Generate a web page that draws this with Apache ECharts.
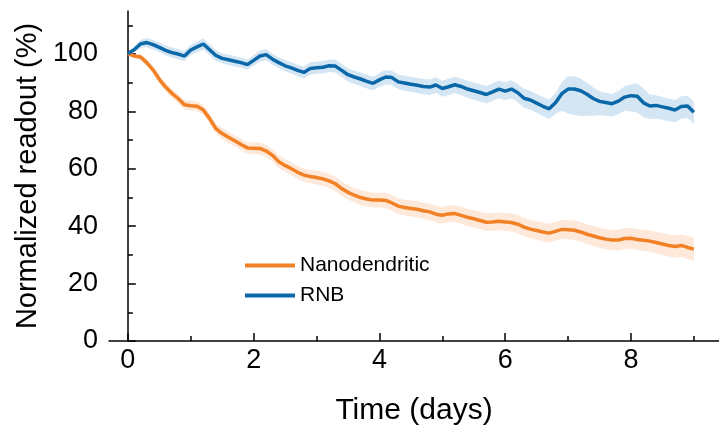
<!DOCTYPE html>
<html>
<head>
<meta charset="utf-8">
<script src="https://cdn.jsdelivr.net/npm/echarts@6/dist/echarts.min.js"></script>
<style>html,body{margin:0;padding:0;background:#fff}#c{width:719px;height:431px}</style>
</head>
<body>
<div id="c"></div>
<script>
const days = [0,0.1,0.2,0.3,0.4,0.5,0.6,0.7,0.8,0.9,1,1.1,1.2,1.3,1.4,1.5,1.6,1.7,1.8,1.9,2,2.1,2.2,2.3,2.4,2.5,2.6,2.7,2.8,2.9,3,3.1,3.2,3.3,3.4,3.5,3.6,3.7,3.8,3.9,4,4.1,4.2,4.3,4.4,4.5,4.6,4.7,4.8,4.9,5,5.1,5.2,5.3,5.4,5.5,5.6,5.7,5.8,5.9,6,6.1,6.2,6.3,6.4,6.5,6.6,6.7,6.8,6.9,7,7.1,7.2,7.3,7.4,7.5,7.6,7.7,7.8,7.9,8,8.1,8.2,8.3,8.4,8.5,8.6,8.7,8.8,8.9,9];

const rnbMean = [100.2,101.5,103.5,104.0,103.3,102.3,101.3,100.5,100.0,99.3,
101.4,102.5,103.5,101.5,99.5,98.5,98.0,97.5,97.0,96.3,
97.8,99.3,99.8,98.2,97.0,95.9,95.2,94.3,93.6,95.0,
95.2,95.4,95.9,95.8,94.3,92.8,92.0,91.3,90.5,89.8,
91.0,92.0,91.8,90.3,89.9,89.5,89.1,88.7,88.5,89.2,
88.0,88.6,89.3,88.7,87.8,87.2,86.6,85.9,86.8,87.8,
87.1,87.8,86.5,84.6,84.0,82.9,81.8,80.9,83.0,86.2,
87.8,87.8,87.2,86.0,84.5,83.5,83.1,82.7,83.6,85.0,
85.5,85.3,83.0,81.9,82.1,81.6,81.1,80.5,81.7,81.9,
79.7];
const rnbErrUp = [0.6,1.0,1.4,1.6,1.7,1.7,1.7,1.8,1.8,1.8,
1.8,1.9,2.0,1.9,1.8,1.8,1.8,1.8,1.8,1.8,
1.9,2.0,2.0,1.9,1.9,2.0,2.0,2.0,2.1,2.1,
2.1,2.2,2.2,2.2,2.2,2.2,2.3,2.3,2.3,2.3,
2.4,2.4,2.4,2.5,2.5,2.5,2.6,2.6,2.6,2.7,
2.7,2.8,2.8,2.8,2.9,2.9,2.9,3.0,3.0,3.0,
3.1,3.1,3.1,3.2,3.2,3.2,3.3,3.3,3.4,4.0,
4.5,4.5,4.3,4.0,3.8,3.5,3.4,3.4,3.5,3.8,
4.0,4.5,5.0,4.0,3.5,3.4,3.4,3.5,3.6,3.6,
3.7];
const rnbErrDown = [0.6,1.0,1.4,1.6,1.7,1.7,1.7,1.8,1.8,1.8,
1.8,1.9,2.0,1.9,1.8,1.8,1.8,1.8,1.8,1.8,
1.9,2.0,2.0,1.9,1.9,2.0,2.0,2.0,2.1,2.1,
2.1,2.2,2.2,2.2,2.3,2.4,2.4,2.4,2.5,2.5,
2.5,2.6,2.6,2.6,2.7,2.7,2.7,2.8,2.8,2.8,
2.9,2.9,3.0,3.0,3.0,3.1,3.1,3.1,3.2,3.2,
3.2,3.3,3.3,3.3,3.4,3.4,3.4,3.5,3.8,6.0,
8.5,9.0,8.8,7.5,6.0,4.8,4.6,4.5,4.5,4.8,
5.5,5.8,5.0,4.6,4.6,4.5,4.5,4.3,4.2,4.2,
4.0];

const ndMean = [100.2,99.3,99.0,97.0,94.5,91.2,88.5,86.3,84.5,82.3,
82.0,81.8,80.5,77.5,74.0,72.3,71.0,69.8,68.5,67.3,
67.2,67.1,66.2,64.7,62.5,61.2,60.0,58.8,57.8,57.3,
57.0,56.5,55.8,54.8,53.1,51.8,50.8,50.0,49.5,49.1,
49.1,49.0,48.1,47.0,46.5,46.2,45.9,45.4,45.0,44.2,
43.8,44.3,44.4,43.8,43.1,42.6,42.0,41.4,41.5,41.7,
41.5,41.3,40.7,39.7,39.0,38.5,38.0,37.6,38.2,38.9,
38.8,38.6,38.0,37.2,36.6,36.0,35.5,35.2,35.2,35.7,
35.8,35.4,35.1,34.8,34.3,33.8,33.3,32.9,33.3,32.6,
32.0];
const ndErr = [0.5,0.8,1.0,1.2,1.3,1.4,1.5,1.5,1.6,1.6,
1.7,1.7,1.8,1.8,1.8,1.9,1.9,1.9,2.0,2.0,
2.0,2.1,2.1,2.1,2.2,2.2,2.2,2.3,2.3,2.3,
2.4,2.4,2.4,2.5,2.5,2.5,2.5,2.6,2.6,2.6,
2.6,2.7,2.7,2.7,2.7,2.8,2.8,2.8,2.8,2.9,
2.9,2.9,2.9,3.0,3.0,3.0,3.0,3.1,3.1,3.1,
3.1,3.1,3.2,3.2,3.2,3.2,3.3,3.3,3.3,3.3,
3.4,3.4,3.4,3.4,3.5,3.5,3.5,3.5,3.6,3.6,
3.6,3.6,3.7,3.7,3.7,3.8,3.8,3.9,3.9,4.0,
4.0];

const xMajorTicks = [0,2,4,6,8];
const xMinorTicks = [1,3,5,7,9];
const yMajorTicks = [0,20,40,60,80,100];
const yMinorTicks = [10,30,50,70,90,110];
const seriesNames = ['Nanodendritic','RNB'];

const BLUE = '#0a68a9', BLUE_BAND = 'rgba(60,140,205,0.22)';
const ORANGE = '#f28125', ORANGE_BAND = 'rgba(245,150,85,0.22)';
const FONT = 'Liberation Sans, Arial, sans-serif';

const pairs = (vals) => days.map((d, i) => [d, vals[i]]);

function bandSeries(mean, up, dn, color) {
  return {
    type: 'custom', silent: true, z: 1,
    data: [[days[0], mean[0]]],
    renderItem: function (params, api) {
      const pts = [];
      for (let i = 0; i < days.length; i++) pts.push(api.coord([days[i], mean[i] + up[i]]));
      for (let i = days.length - 1; i >= 0; i--) pts.push(api.coord([days[i], mean[i] - dn[i]]));
      return { type: 'polygon', shape: { points: pts }, style: { fill: color, stroke: null } };
    }
  };
}

const chart = echarts.init(document.getElementById('c'), null, { renderer: 'canvas' });
chart.setOption({
  animation: false,
  backgroundColor: '#fff',
  grid: { left: 109, right: 0, top: 11, bottom: 90, containLabel: false },
  legend: {
    data: [
      { name: seriesNames[0], icon: 'rect', itemStyle: { color: ORANGE } },
      { name: seriesNames[1], icon: 'rect', itemStyle: { color: BLUE } }
    ],
    orient: 'vertical', left: 240, top: 250,
    itemWidth: 50, itemHeight: 4, itemGap: 9,
    textStyle: { fontFamily: FONT, fontSize: 21, color: '#000', padding: [0, 0, 0, 0] }
  },
  xAxis: [
    {
      type: 'value', min: -0.3, max: 9.4, position: 'bottom',
      axisLine: { show: true, lineStyle: { color: '#000', width: 1.5 } },
      splitLine: { show: false },
      name: 'Time (days)', nameLocation: 'middle', nameGap: 55,
      nameTextStyle: { fontFamily: FONT, fontSize: 30, color: '#000' },
      axisTick: { show: true, inside: true, length: 8, customValues: xMajorTicks, lineStyle: { color: '#000', width: 1.5 } },
      axisLabel: { customValues: xMajorTicks, fontFamily: FONT, fontSize: 27, color: '#000', margin: 6 }
    },
    {
      type: 'value', min: -0.3, max: 9.4, position: 'bottom',
      axisLine: { show: false }, splitLine: { show: false },
      axisTick: { show: true, inside: true, length: 5, customValues: xMinorTicks, lineStyle: { color: '#000', width: 1.5 } },
      axisLabel: { show: false }
    }
  ],
  yAxis: [
    {
      type: 'value', min: 0, max: 115, position: 'left',
      axisLine: { show: true, lineStyle: { color: '#000', width: 1.5 } },
      splitLine: { show: false },
      name: 'Normalized readout (%)', nameLocation: 'middle', nameGap: 64, nameRotate: 90,
      nameTextStyle: { fontFamily: FONT, fontSize: 29, color: '#000' },
      axisTick: { show: true, inside: true, length: 8, customValues: yMajorTicks, lineStyle: { color: '#000', width: 1.5 } },
      axisLabel: { customValues: yMajorTicks, fontFamily: FONT, fontSize: 27, color: '#000', margin: 11 }
    },
    {
      type: 'value', min: 0, max: 115, position: 'left',
      axisLine: { show: false }, splitLine: { show: false },
      axisTick: { show: true, inside: true, length: 5, customValues: yMinorTicks, lineStyle: { color: '#000', width: 1.5 } },
      axisLabel: { show: false }
    }
  ],
  series: [
    bandSeries(rnbMean, rnbErrUp, rnbErrDown, BLUE_BAND),
    bandSeries(ndMean, ndErr, ndErr, ORANGE_BAND),
    { name: seriesNames[0], type: 'line', data: pairs(ndMean), symbol: 'none', showSymbol: false,
      lineStyle: { color: ORANGE, width: 3.5 }, itemStyle: { color: ORANGE }, z: 3 },
    { name: seriesNames[1], type: 'line', data: pairs(rnbMean), symbol: 'none', showSymbol: false,
      lineStyle: { color: BLUE, width: 3.5 }, itemStyle: { color: BLUE }, z: 3 }
  ]
});
</script>
</body>
</html>
